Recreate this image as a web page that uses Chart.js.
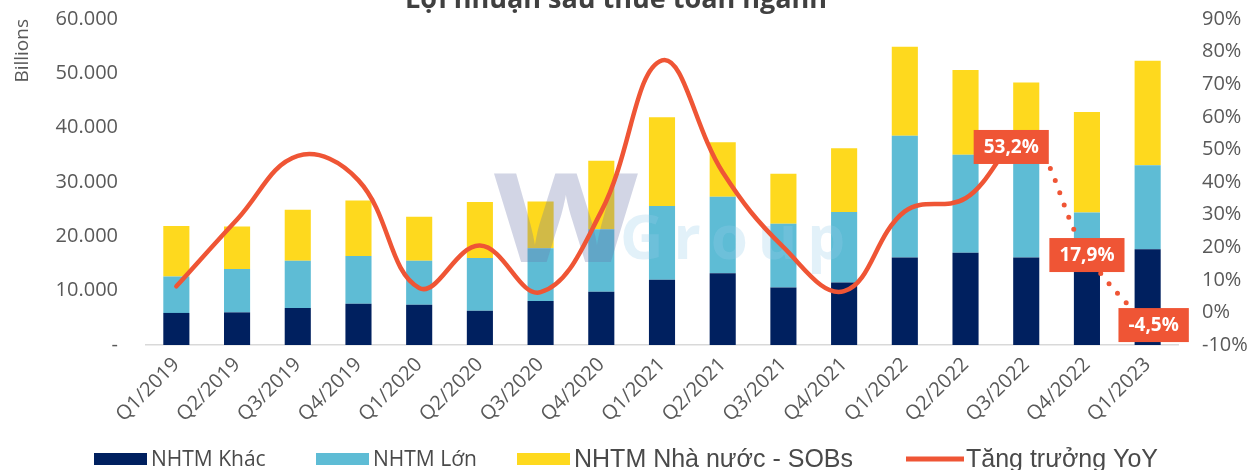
<!DOCTYPE html>
<html>
<head>
<meta charset="utf-8">
<script src="https://cdn.jsdelivr.net/npm/chart.js@4.4.1/dist/chart.umd.min.js"></script>
<style>
  html, body { margin: 0; padding: 0; background: #fff; }
  #wrap { width: 1257px; height: 470px; position: relative; overflow: hidden; }
  /* Chart.js keeps ~40px above the plot; lift the canvas so the plot top lands at 19px. */
  #inner { position: absolute; left: 0; top: -21px; width: 1257px; height: 491px; }
</style>
</head>
<body>
<div id="wrap"><div id="inner"><canvas id="chart"></canvas></div></div>
<script>
// Lợi nhuận sau thuế toàn ngành – stacked profit by bank group + YoY growth line.
const quarters = [
  'Q1/2019', 'Q2/2019', 'Q3/2019', 'Q4/2019',
  'Q1/2020', 'Q2/2020', 'Q3/2020', 'Q4/2020',
  'Q1/2021', 'Q2/2021', 'Q3/2021', 'Q4/2021',
  'Q1/2022', 'Q2/2022', 'Q3/2022', 'Q4/2022',
  'Q1/2023',
];
const nhtmKhac = [5900, 6000, 6800, 7600, 7400, 6300, 8100, 9800, 12000, 13200, 10600, 11500, 16100, 17000, 16100, 13500, 17600];
const nhtmLon = [6700, 8000, 8700, 8800, 8100, 9700, 9700, 11500, 13600, 14100, 11700, 13000, 22400, 18000, 17900, 10900, 15500];
const nhtmSobs = [9300, 7800, 9400, 10200, 8100, 10300, 8600, 12600, 16300, 10000, 9200, 11700, 16400, 15600, 14300, 18500, 19200];
const yoyGrowth = [8, 28.5, 48, 40.5, 7.5, 20.5, 6.2, 31, 77.3, 43, 20, 6.5, 31, 35, 53.2, 17.9, -4.5];
const calloutIdx = [14, 15, 16];

const NAVY = '#00205f';
const TEAL = '#5ebcd5';
const YELLOW = '#fed91e';
const RED = '#ef5535';
const GREY = '#595959';
const SHIFT = 21; // canvas is lifted by this much (see #inner)

Chart.defaults.font.family = '"Open Sans", sans-serif';

function fmtThousands(v) {
  if (v === 0) return '-';
  return String(v).replace(/\B(?=(\d{3})+(?!\d))/g, '.');
}
function fmtPct(v) {
  return v.toFixed(1).replace('.', ',') + '%';
}

// Title sits mostly above the frame; only its lower half is visible.
const titlePlugin = {
  id: 'cutTitle',
  afterDraw(chart) {
    const ctx = chart.ctx;
    ctx.save();
    ctx.font = 'bold 27px "Open Sans"';
    ctx.fillStyle = '#404040';
    ctx.textAlign = 'center';
    ctx.textBaseline = 'alphabetic';
    ctx.fillText('Lợi nhuận sau thuế toàn ngành', 616, 8 + SHIFT);
    ctx.restore();
  },
};

// Faint logo behind the growth line.
const watermarkPlugin = {
  id: 'watermark',
  beforeDatasetDraw(chart, args) {
    if (args.index !== 3) return;
    const ctx = chart.ctx;
    ctx.save();
    ctx.textBaseline = 'alphabetic';
    ctx.font = 'bold 124px "Open Sans"';
    ctx.fillStyle = 'rgba(105, 115, 170, 0.3)';
    ctx.translate(494, 262 + SHIFT);
    ctx.scale(1.2, 1);
    ctx.fillText('W', 0, 0);
    ctx.setTransform(1, 0, 0, 1, 0, 0);
    ctx.font = 'bold 60px "Open Sans"';
    ctx.fillStyle = 'rgba(150, 205, 232, 0.28)';
    ctx.letterSpacing = '10px';
    ctx.fillText('Group', 620, 259 + SHIFT);
    ctx.restore();
  },
};

// Red value boxes on the last three growth points.
const calloutShift = [[-15, 8], [0, 1], [6, -2]];
const calloutPlugin = {
  id: 'callouts',
  afterDatasetsDraw(chart) {
    const meta = chart.getDatasetMeta(3);
    const ctx = chart.ctx;
    ctx.save();
    ctx.font = 'bold 19px "Open Sans"';
    ctx.textAlign = 'center';
    ctx.textBaseline = 'middle';
    calloutIdx.forEach((i, k) => {
      const pt = meta.data[i];
      const txt = fmtPct(yoyGrowth[i]);
      const w = ctx.measureText(txt).width + 20;
      const h = 34;
      const cx = pt.x + calloutShift[k][0];
      const cy = pt.y + calloutShift[k][1];
      ctx.fillStyle = RED;
      ctx.fillRect(cx - w / 2, cy - h / 2, w, h);
      ctx.fillStyle = '#fff';
      ctx.fillText(txt, cx, cy + 1);
    });
    ctx.restore();
  },
};

// Hand-placed legend: the source mixes two label fonts.
const legendSlots = [
  { x: 94, font: '21px "Open Sans"' },
  { x: 316, font: '21px "Open Sans"' },
  { x: 517, font: '25px "Liberation Sans"' },
  { x: 906, font: '25px "Liberation Sans"' },
];
const legendPlugin = {
  id: 'bottomLegend',
  afterDraw(chart) {
    const ctx = chart.ctx;
    const y = 459 + SHIFT;
    ctx.save();
    ctx.textBaseline = 'middle';
    ctx.textAlign = 'left';
    chart.data.datasets.forEach((ds, i) => {
      const slot = legendSlots[i];
      if (ds.type === 'line') {
        ctx.fillStyle = ds.borderColor;
        ctx.fillRect(slot.x, y - 2.5, 58, 5);
      } else {
        ctx.fillStyle = ds.backgroundColor;
        ctx.fillRect(slot.x, y - 6, 53, 12);
      }
      ctx.font = slot.font;
      ctx.fillStyle = '#4a4a4a';
      ctx.fillText(ds.label, slot.x + (ds.type === 'line' ? 60 : 57), y + 1);
    });
    ctx.restore();
  },
};

const barCommon = { type: 'bar', stack: 'profit', yAxisID: 'y', order: 1, categoryPercentage: 0.86, barPercentage: 0.5 };

new Chart(document.getElementById('chart'), {
  data: {
    labels: quarters,
    datasets: [
      { ...barCommon, label: 'NHTM Khác', data: nhtmKhac, backgroundColor: NAVY },
      { ...barCommon, label: 'NHTM Lớn', data: nhtmLon, backgroundColor: TEAL },
      { ...barCommon, label: 'NHTM Nhà nước - SOBs', data: nhtmSobs, backgroundColor: YELLOW },
      {
        type: 'line',
        label: 'Tăng trưởng YoY',
        data: yoyGrowth,
        yAxisID: 'y1',
        order: 0,
        borderColor: RED,
        backgroundColor: RED,
        borderWidth: 4.5,
        tension: 0.4,
        pointRadius: 0,
        borderCapStyle: 'round',
        segment: {
          borderDash: (c) => (c.p0DataIndex >= 14 ? [0, 13] : undefined),
          borderWidth: (c) => (c.p0DataIndex >= 14 ? 5 : undefined),
        },
      },
    ],
  },
  options: {
    responsive: true,
    maintainAspectRatio: false,
    animation: false,
    layout: { autoPadding: false, padding: { top: 19, bottom: 0, left: 0, right: 0 } },
    plugins: {
      legend: { display: false },
      tooltip: { enabled: false },
      title: { display: false },
    },
    scales: {
      x: {
        stacked: true,
        grid: { display: false, drawTicks: false },
        border: { display: true, color: '#d9d9d9', width: 1.5 },
        ticks: {
          color: GREY,
          font: { size: 20 },
          minRotation: 45,
          maxRotation: 45,
          autoSkip: false,
          padding: 8,
        },
        afterFit: (s) => { s.height = 125; },
      },
      y: {
        position: 'left',
        stacked: true,
        min: 0,
        max: 60000,
        grid: { display: false, drawTicks: false },
        border: { display: false },
        ticks: {
          stepSize: 10000,
          color: GREY,
          font: { size: 20 },
          padding: 28,
          callback: (v) => fmtThousands(v),
        },
        title: {
          display: true,
          text: 'Billions',
          align: 'end',
          color: GREY,
          font: { size: 19 },
          padding: { top: 11, bottom: 0 },
        },
        afterFit: (s) => { s.width = 146; },
      },
      y1: {
        position: 'right',
        min: -10,
        max: 90,
        grid: { display: false, drawTicks: false },
        border: { display: false },
        ticks: {
          stepSize: 10,
          color: GREY,
          font: { size: 20 },
          padding: 24,
          callback: (v) => v + '%',
        },
        afterFit: (s) => { s.width = 79; },
      },
    },
  },
  plugins: [titlePlugin, watermarkPlugin, calloutPlugin, legendPlugin],
});
</script>
</body>
</html>
